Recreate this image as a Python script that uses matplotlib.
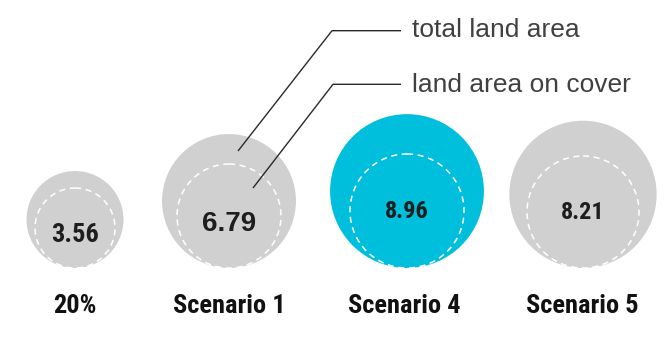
import matplotlib
matplotlib.use("Agg")
import matplotlib.pyplot as plt
from matplotlib.patches import Circle
import numpy as np

# ---- data ----
categories = ["20%", "Scenario 1", "Scenario 4", "Scenario 5"]
total_land_area = [3.56, 6.79, 8.96, 8.21]
land_area_on_cover = [2.42, 4.09, 4.92, 4.75]   # estimated from inner circles
value_labels = ["3.56", "6.79", "8.96", "8.21"]
legend_labels = ["total land area", "land area on cover"]

# ---- layout / style ----
W, H = 670, 339
x_centers = [75, 229, 407, 583]
cat_label_x = [75, 229, 404, 582]
baseline = 268
k = 25.7  # px per sqrt(unit)
fill_colors = ["#D0D0D0", "#D0D0D0", "#00BFDD", "#D0D0D0"]
NARROW = ["Roboto Condensed", "Liberation Sans"]
label_sizes = [19, 20, 17.5, 17.5]
label_families = [NARROW, ["Liberation Sans"], NARROW, NARROW]
label_baseline_dy = [13.7, 14.7, 7.3, 7.3]

fig = plt.figure(figsize=(W / 100, H / 100), dpi=100)
ax = fig.add_axes([0, 0, 1, 1])
ax.set_xlim(0, W)
ax.set_ylim(H, 0)
ax.set_aspect("equal")
ax.axis("off")

for i, cat in enumerate(categories):
    R = k * np.sqrt(total_land_area[i])
    r = k * np.sqrt(land_area_on_cover[i])
    cx = x_centers[i]
    ax.add_patch(Circle((cx, baseline - R), R, facecolor=fill_colors[i],
                        edgecolor="none", zorder=1))
    ax.add_patch(Circle((cx, baseline - r), r, facecolor="none",
                        edgecolor="white", lw=1.1, ls=(0, (4, 3)), zorder=2))
    ax.text(cx, baseline - r + label_baseline_dy[i], value_labels[i],
            ha="center", va="baseline",
            fontsize=label_sizes[i], fontweight="bold", color="#1e1e1e",
            family=label_families[i], zorder=3)
    ax.text(cat_label_x[i], 313, cat, ha="center", va="baseline", fontsize=19,
            fontweight="bold", color="#111111", family=NARROW)

# leader lines pointing into the Scenario 1 circles
legend_y = [30.7, 84.3]
legend_text_baseline = [37.3, 91.5]
starts = [(238, 151), (253, 188)]
elbows = [(332, legend_y[0]), (333, legend_y[1])]
for j in range(2):
    sx, sy = starts[j]
    ex, ey = elbows[j]
    ax.plot([sx, ex, 401], [sy, ey, ey], color="#2a2a2a", lw=1.0, zorder=4,
            solid_capstyle="butt")
    ax.text(412, legend_text_baseline[j], legend_labels[j], ha="left",
            va="baseline", fontsize=19, color="#404040", family="Liberation Sans")

fig.savefig("out.png", dpi=100)
